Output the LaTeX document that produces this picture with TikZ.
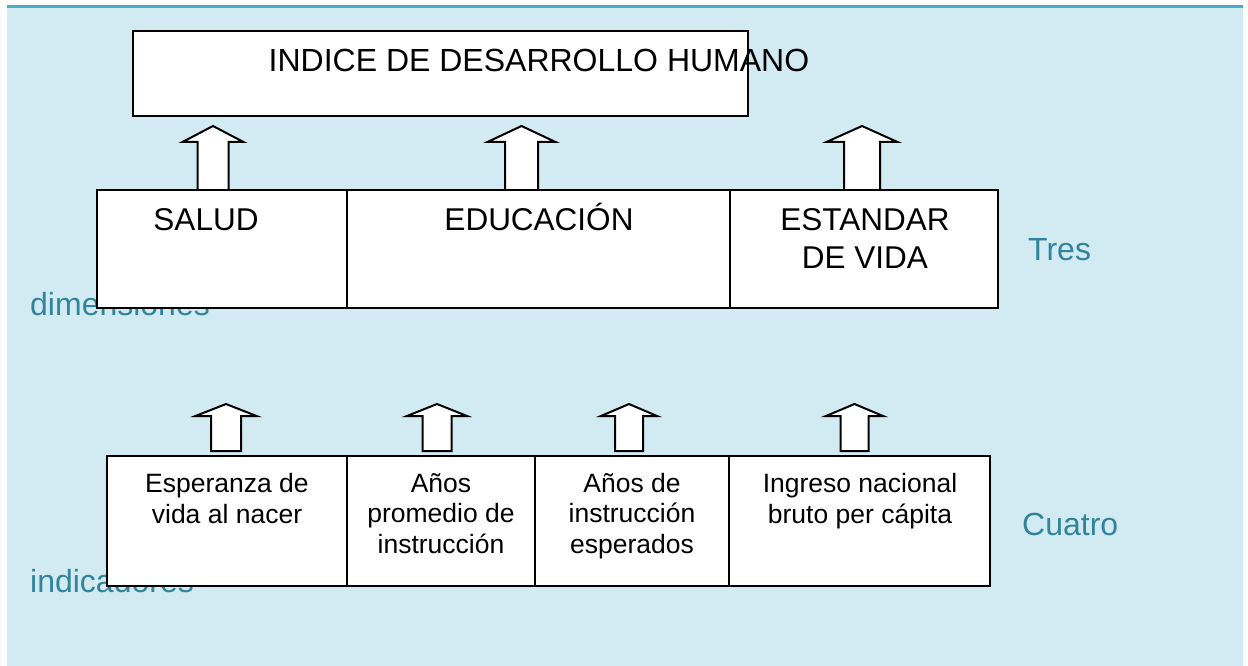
\documentclass[tikz,border=0pt]{standalone}
\usepackage{fontspec}
\setmainfont{Liberation Sans}
\definecolor{bgblue}{RGB}{210,234,241}
\definecolor{topline}{RGB}{75,172,198}
\definecolor{lbltxt}{RGB}{49,132,155}
\newcommand\blockarrow[6]{%
  \draw[blockarr] ({#1-#4},#3) -- ({#1-#4},{#2+#6}) -- ({#1-#5},{#2+#6}) -- (#1,#2)
    -- ({#1+#5},{#2+#6}) -- ({#1+#4},{#2+#6}) -- ({#1+#4},#3) -- cycle;}
\tikzset{
  box/.style={draw=black, fill=white, line width=2pt, inner sep=0pt, outer sep=0pt, anchor=north west},
  blockarr/.style={draw=black, fill=white, line width=2pt, line join=miter},
  titletxt/.style={font=\fontsize{32}{38}\selectfont, inner sep=0pt, anchor=base, align=center},
  bigtxt/.style={font=\fontsize{31.5}{38}\selectfont, inner sep=0pt, anchor=base, align=center},
  smalltxt/.style={font=\fontsize{26.5}{30.5}\selectfont, inner sep=0pt, anchor=base, align=center},
  sidetxt/.style={font=\fontsize{32}{38}\selectfont, text=lbltxt, inner sep=0pt, anchor=base west},
}
\begin{document}
\begin{tikzpicture}[x=1pt,y=-1pt]
\useasboundingbox (0,0) rectangle (1248,666);
\fill[bgblue] (7,7) rectangle (1243,666);
\draw[topline, line width=3pt] (7,7) -- (1243,7);

% side labels (behind boxes)
\node[sidetxt] (tres) at (1028,260) {Tres};
\node[sidetxt] (dim) at (30,315) {dimensiones};
\node[sidetxt] (cuatro) at (1022,535) {Cuatro};
\node[sidetxt] (ind) at (30,592) {indicadores};

% top box
\node[box, minimum width=615pt, minimum height=85pt] (idh) at (133,31) {};
\node[titletxt] (idhtxt) at (539,72) {INDICE DE DESARROLLO HUMANO};

% top arrows
\blockarrow{213}{126}{190}{15.5}{30.5}{16}
\blockarrow{521.5}{126}{190}{16.5}{34}{16}
\blockarrow{862}{126}{190}{18}{35.5}{16}

% dimensions
\node[box, minimum width=250pt, minimum height=118pt] (salud) at (97,190) {};
\node[box, minimum width=383pt, minimum height=118pt] (educ) at (347,190) {};
\node[box, minimum width=268pt, minimum height=118pt] (estd) at (730,190) {};
\node[bigtxt] (saludtxt) at (206,230) {SALUD};
\node[bigtxt] (eductxt) at (539,230) {EDUCACIÓN};
\node[bigtxt] (estdtxt) at (865,268) {ESTANDAR\\DE VIDA};

% bottom arrows
\blockarrow{226}{404}{451}{15}{30.5}{12}
\blockarrow{437}{404}{451}{14.5}{30}{12}
\blockarrow{629}{404}{451}{14}{28}{12}
\blockarrow{854.5}{404}{451}{14}{28.5}{12}

% indicators
\node[box, minimum width=240pt, minimum height=130pt] (esp) at (107,456) {};
\node[box, minimum width=188pt, minimum height=130pt] (prom) at (347,456) {};
\node[box, minimum width=194pt, minimum height=130pt] (esper) at (535,456) {};
\node[box, minimum width=261pt, minimum height=130pt] (ing) at (729,456) {};
\node[smalltxt] (esptxt) at (227,523) {Esperanza de\\vida al nacer};
\node[smalltxt] (promtxt) at (441,553) {Años\\promedio de\\instrucción};
\node[smalltxt] (espertxt) at (632,553) {Años de\\instrucción\\esperados};
\node[smalltxt] (ingtxt) at (860,523) {Ingreso nacional\\bruto per cápita};
\end{tikzpicture}
\end{document}
